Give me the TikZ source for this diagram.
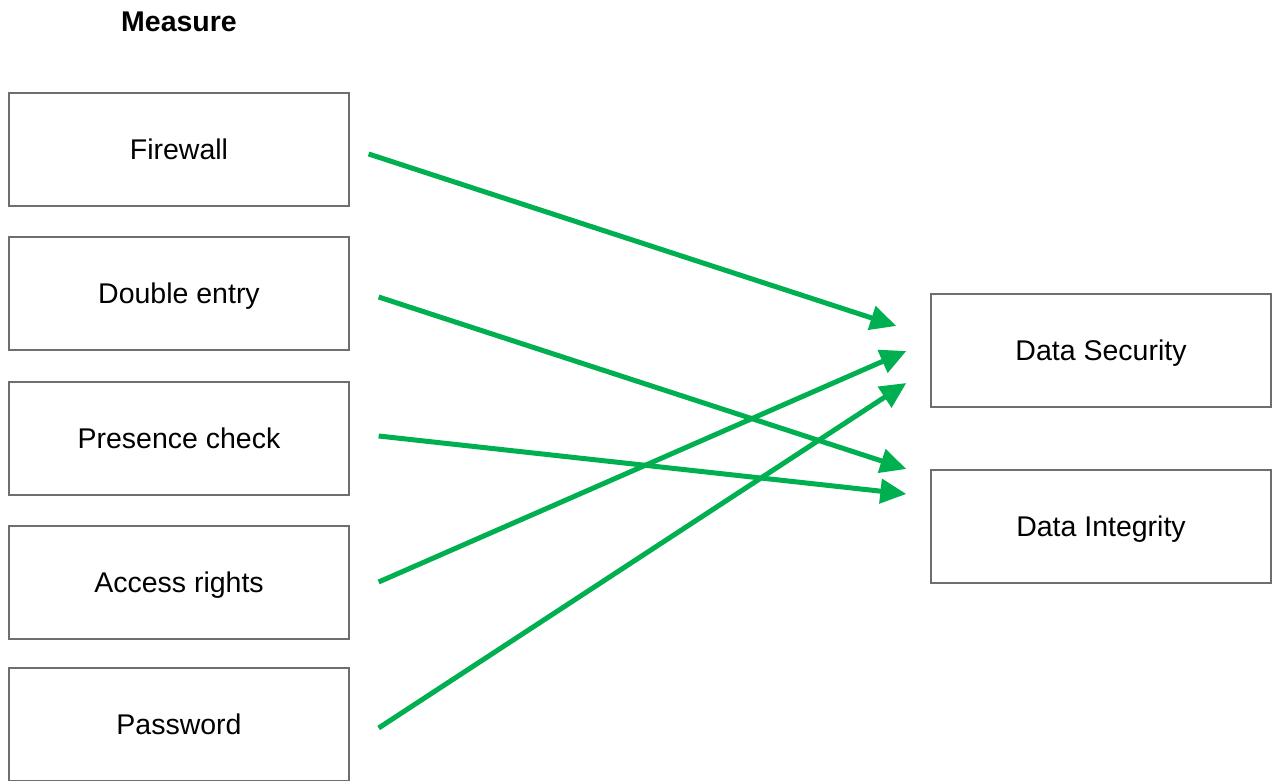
\documentclass[tikz,border=0pt]{standalone}
\usepackage{fontspec}
\setmainfont{Liberation Sans}
\usetikzlibrary{calc,arrows.meta}

\definecolor{linkgreen}{RGB}{0,176,80}
\definecolor{boxgray}{RGB}{110,110,110}

\begin{document}
\begin{tikzpicture}[x=1pt,y=-1pt,
  every node/.style={font=\fontsize{28.5}{34}\selectfont},
  measure/.style={draw=boxgray,line width=1.3pt,minimum width=340pt,minimum height=113pt,inner sep=0pt,text height=20.5pt,text depth=0pt},
  link/.style={draw=linkgreen,line width=5pt,-{Triangle[length=26pt,width=24pt]}}]

\useasboundingbox (0,0) rectangle (1278,781);

% title
\node (title) at (179,22) {\bfseries Measure};

% measures
\node[measure] (fw) at (179,149.5) {Firewall};
\node[measure] (de) at (179,293.5) {Double entry};
\node[measure] (pc) at (179,438.5) {Presence check};
\node[measure] (ar) at (179,582.5) {Access rights};
\node[measure] (pw) at (179,724.5) {Password};

% targets
\node[measure] (ds) at (1101,350.5) {Data Security};
\node[measure] (di) at (1101,526.5) {Data Integrity};

% arrows
\draw[link] ($(fw.east)+(19,4.5)$) -- ($(ds.west)+(-34,-24.5)$);
\draw[link] ($(de.east)+(29,3.5)$) -- ($(di.west)+(-24,-57.5)$);
\draw[link] ($(pc.east)+(29,-2.5)$) -- ($(di.west)+(-24,-32.5)$);
\draw[link] ($(ar.east)+(29,-0.5)$) -- ($(ds.west)+(-24,0.5)$);
\draw[link] ($(pw.east)+(29,3.5)$) -- ($(ds.west)+(-24,32.5)$);

\end{tikzpicture}
\end{document}
